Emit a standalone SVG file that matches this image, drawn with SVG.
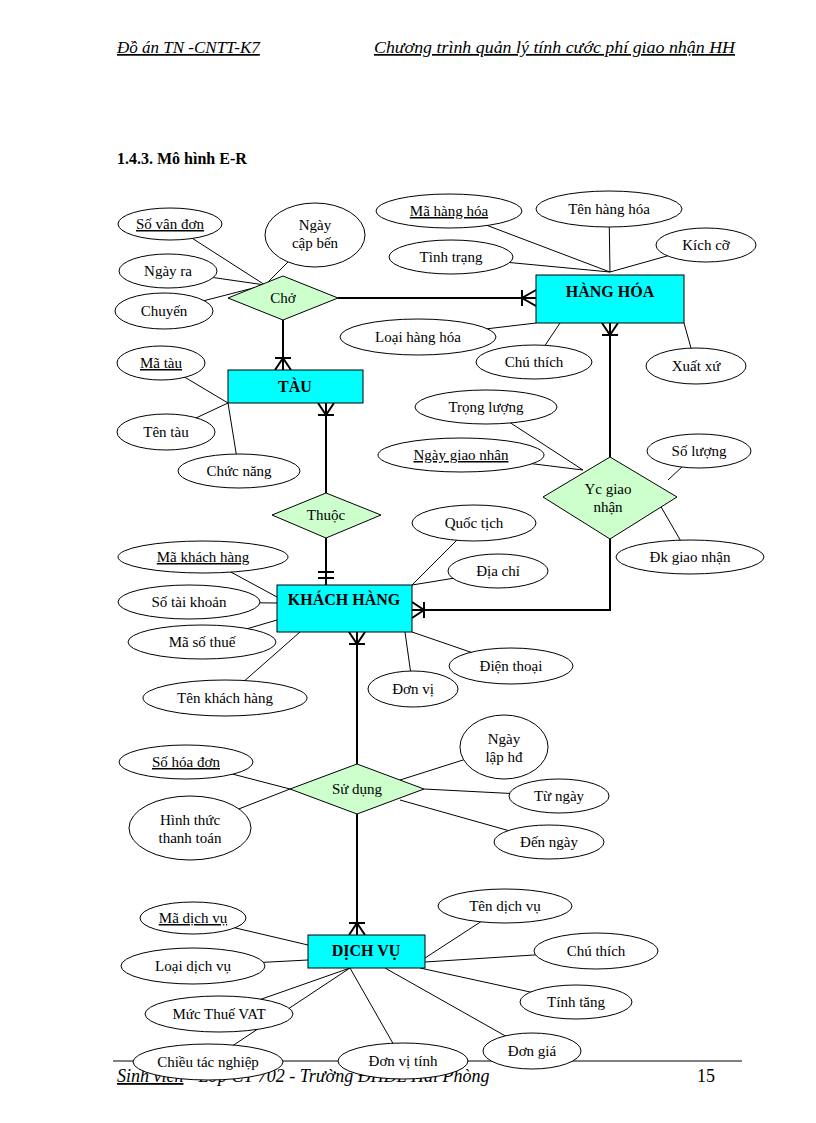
<svg xmlns="http://www.w3.org/2000/svg" width="816" height="1123" viewBox="0 0 816 1123">
<style>
text{font-family:"Liberation Serif","DejaVu Serif",serif;font-size:15px;fill:#000}
.c{text-anchor:middle}
.u{text-decoration:underline}
.at{fill:#fff;stroke:#000;stroke-width:1}
.en{fill:#00ffff;stroke:#000;stroke-width:1}
.rl{fill:#ccffcc;stroke:#000;stroke-width:1}
.bold{font-weight:bold;font-size:16px}
.al{stroke:#000;stroke-width:1;fill:none}
.cn{stroke:#000;stroke-width:2;fill:none}
.hd{font-style:italic;font-size:17px}
</style>
<rect width="816" height="1123" fill="#fff"/>
<g id="header">
<text x="117" y="53" class="hd u">Đồ án TN -CNTT-K7</text>
<text x="374" y="53" class="hd u" textLength="361" lengthAdjust="spacingAndGlyphs">Chương trình quản lý tính cước phí giao nhận HH</text>
<text x="117" y="164" class="bold">1.4.3. Mô hình E-R</text>
</g>
<g id="footer">
<line x1="113" y1="1061" x2="742" y2="1061" stroke="#000" stroke-width="1"/>
<text x="117" y="1082" class="hd" style="font-size:18px"><tspan class="u">Sinh viên</tspan> - Lớp CT 702 - Trường ĐHDL Hải Phòng</text>
<text x="697" y="1082" style="font-size:18px">15</text>
</g>
<g id="connectors">
<g class="al">
<path d="M170 224L265 285M315 235L265 285M168 271L265 285M164 311L265 285"/>
<path d="M449 211L610 272M609 209L610 272M451 257L610 272M706 245L610 272M418 337L536 323M534 362L560 323M696 366L684 323"/>
<path d="M161 363L228 403M166 432L228 403M239 471L228 403"/>
<path d="M486 407L583 470M461 455L583 470M699 451L668 480M690 557L660 505"/>
<path d="M474 523L412 585M498 571L412 585M203 557L277 597M189 602L277 603M202 642L277 620M225 698L300 632M413 689L405 632M511 666L412 632"/>
<path d="M186 762L290 789M190 828L290 789M504 747L400 780M559 796L424 789M549 842L400 800"/>
<path d="M193 918L308 945M193 966L308 960M505 906L425 958M596 951L425 962M576 1002L420 968M219 1014L350 968M208 1062L350 968M403 1061L350 968M532 1051L385 968"/>
</g>
<g class="cn">
<path d="M338 298H536M522 290V306M536 290L522 298L536 306"/>
<path d="M283 320V370M275 358H291M275 370L283 358L291 370"/>
<path d="M326 403V493M318 415H334M318 403L326 415L334 403"/>
<path d="M326 538V585M318 572H334M318 578H334"/>
<path d="M610 323V457M602 335H618M602 323L610 335L618 323"/>
<path d="M610 539V610H412M424 602V618M412 602L424 610L412 618"/>
<path d="M357 632V764M349 644H365M349 632L357 644L365 632"/>
<path d="M357 814V935M349 923H365M349 935L357 923L365 935"/>
</g>
</g>
<g id="tau"><rect class="en" x="228" y="370" width="135" height="33"/><text class="c bold" x="295" y="392">TÀU</text></g>
<g id="hanghoa"><rect class="en" x="536" y="275" width="148" height="48"/><text class="c bold" x="610" y="297">HÀNG HÓA</text></g>
<g id="khachhang"><rect class="en" x="277" y="585" width="135" height="47"/><text class="c bold" x="344" y="605">KHÁCH HÀNG</text></g>
<g id="dichvu"><rect class="en" x="308" y="935" width="117" height="33"/><text class="c bold" x="366" y="956">DỊCH VỤ</text></g>
<g id="cho"><polygon class="rl" points="228,298 283,276 338,298 283,320"/><text class="c" x="283" y="303">Chở</text></g>
<g id="thuoc"><polygon class="rl" points="272,515 326,493 381,515 326,538"/><text class="c" x="326" y="520">Thuộc</text></g>
<g id="ycgiaonhan"><polygon class="rl" points="543,497 610,457 677,497 610,539"/><text class="c" x="608" y="494">Yc giao</text><text class="c" x="608" y="512">nhận</text></g>
<g id="sudung"><polygon class="rl" points="290,789 357,764 424,789 357,814"/><text class="c" x="357" y="794">Sử dụng</text></g>
<g id="attrs">
<g id="a1"><ellipse class="at" cx="170" cy="224" rx="52" ry="16"/><text class="c u" x="170" y="229">Số vân đơn</text></g>
<g id="a2"><ellipse class="at" cx="315" cy="235" rx="50" ry="32"/><text class="c" x="315" y="230">Ngày</text><text class="c" x="315" y="248">cập bến</text></g>
<g id="a3"><ellipse class="at" cx="168" cy="271" rx="49" ry="17"/><text class="c" x="168" y="276">Ngày ra</text></g>
<g id="a4"><ellipse class="at" cx="164" cy="311" rx="49" ry="18"/><text class="c" x="164" y="316">Chuyến</text></g>
<g id="a5"><ellipse class="at" cx="449" cy="211" rx="73" ry="17"/><text class="c u" x="449" y="216">Mã hàng hóa</text></g>
<g id="a6"><ellipse class="at" cx="609" cy="209" rx="73" ry="18"/><text class="c" x="609" y="214">Tên hàng hóa</text></g>
<g id="a7"><ellipse class="at" cx="451" cy="257" rx="62" ry="17"/><text class="c" x="451" y="262">Tình trạng</text></g>
<g id="a8"><ellipse class="at" cx="706" cy="245" rx="50" ry="17"/><text class="c" x="706" y="250">Kích cỡ</text></g>
<g id="a9"><ellipse class="at" cx="418" cy="337" rx="78" ry="18"/><text class="c" x="418" y="342">Loại hàng hóa</text></g>
<g id="a10"><ellipse class="at" cx="534" cy="362" rx="58" ry="17"/><text class="c" x="534" y="367">Chú thích</text></g>
<g id="a11"><ellipse class="at" cx="696" cy="366" rx="50" ry="18"/><text class="c" x="696" y="371">Xuất xứ</text></g>
<g id="a12"><ellipse class="at" cx="161" cy="363" rx="44" ry="17"/><text class="c u" x="161" y="368">Mã tàu</text></g>
<g id="a13"><ellipse class="at" cx="166" cy="432" rx="49" ry="18"/><text class="c" x="166" y="437">Tên tàu</text></g>
<g id="a14"><ellipse class="at" cx="239" cy="471" rx="61" ry="17"/><text class="c" x="239" y="476">Chức năng</text></g>
<g id="a15"><ellipse class="at" cx="486" cy="407" rx="71" ry="17"/><text class="c" x="486" y="412">Trọng lượng</text></g>
<g id="a16"><ellipse class="at" cx="461" cy="455" rx="83" ry="17"/><text class="c u" x="461" y="460">Ngày giao nhân</text></g>
<g id="a17"><ellipse class="at" cx="699" cy="451" rx="52" ry="17"/><text class="c" x="699" y="456">Số lượng</text></g>
<g id="a18"><ellipse class="at" cx="690" cy="557" rx="74" ry="17"/><text class="c" x="690" y="562">Đk giao nhận</text></g>
<g id="a19"><ellipse class="at" cx="474" cy="523" rx="62" ry="18"/><text class="c" x="474" y="528">Quốc tịch</text></g>
<g id="a20"><ellipse class="at" cx="498" cy="571" rx="50" ry="17"/><text class="c" x="498" y="576">Địa chỉ</text></g>
<g id="a21"><ellipse class="at" cx="203" cy="557" rx="85" ry="16"/><text class="c u" x="203" y="562">Mã khách hàng</text></g>
<g id="a22"><ellipse class="at" cx="189" cy="602" rx="71" ry="17"/><text class="c" x="189" y="607">Số tài khoản</text></g>
<g id="a23"><ellipse class="at" cx="202" cy="642" rx="74" ry="17"/><text class="c" x="202" y="647">Mã số thuế</text></g>
<g id="a24"><ellipse class="at" cx="511" cy="666" rx="62" ry="18"/><text class="c" x="511" y="671">Điện thoại</text></g>
<g id="a25"><ellipse class="at" cx="413" cy="689" rx="45" ry="18"/><text class="c" x="413" y="694">Đơn vị</text></g>
<g id="a26"><ellipse class="at" cx="225" cy="698" rx="82" ry="18"/><text class="c" x="225" y="703">Tên khách hàng</text></g>
<g id="a27"><ellipse class="at" cx="504" cy="747" rx="44" ry="32"/><text class="c" x="504" y="744">Ngày</text><text class="c" x="504" y="762">lập hđ</text></g>
<g id="a28"><ellipse class="at" cx="186" cy="762" rx="67" ry="17"/><text class="c u" x="186" y="767">Số hóa đơn</text></g>
<g id="a29"><ellipse class="at" cx="559" cy="796" rx="50" ry="17"/><text class="c" x="559" y="801">Từ ngày</text></g>
<g id="a30"><ellipse class="at" cx="190" cy="828" rx="61" ry="32"/><text class="c" x="190" y="825">Hình thức</text><text class="c" x="190" y="843">thanh toán</text></g>
<g id="a31"><ellipse class="at" cx="549" cy="842" rx="55" ry="17"/><text class="c" x="549" y="847">Đến ngày</text></g>
<g id="a32"><ellipse class="at" cx="505" cy="906" rx="67" ry="17"/><text class="c" x="505" y="911">Tên dịch vụ</text></g>
<g id="a33"><ellipse class="at" cx="193" cy="918" rx="53" ry="16"/><text class="c u" x="193" y="923">Mã dịch vụ</text></g>
<g id="a34"><ellipse class="at" cx="596" cy="951" rx="62" ry="18"/><text class="c" x="596" y="956">Chú thích</text></g>
<g id="a35"><ellipse class="at" cx="193" cy="966" rx="72" ry="18"/><text class="c" x="193" y="971">Loại dịch vụ</text></g>
<g id="a36"><ellipse class="at" cx="576" cy="1002" rx="56" ry="17"/><text class="c" x="576" y="1007">Tính tăng</text></g>
<g id="a37"><ellipse class="at" cx="219" cy="1014" rx="74" ry="18"/><text class="c" x="219" y="1019">Mức Thuế VAT</text></g>
<g id="a38"><ellipse class="at" cx="532" cy="1051" rx="49" ry="18"/><text class="c" x="532" y="1056">Đơn giá</text></g>
<g id="a39"><ellipse class="at" cx="208" cy="1062" rx="75" ry="18"/><text class="c" x="208" y="1067">Chiều tác nghiệp</text></g>
<g id="a40"><ellipse class="at" cx="403" cy="1061" rx="65" ry="18"/><text class="c" x="403" y="1066">Đơn vị tính</text></g>
</g>
</svg>
